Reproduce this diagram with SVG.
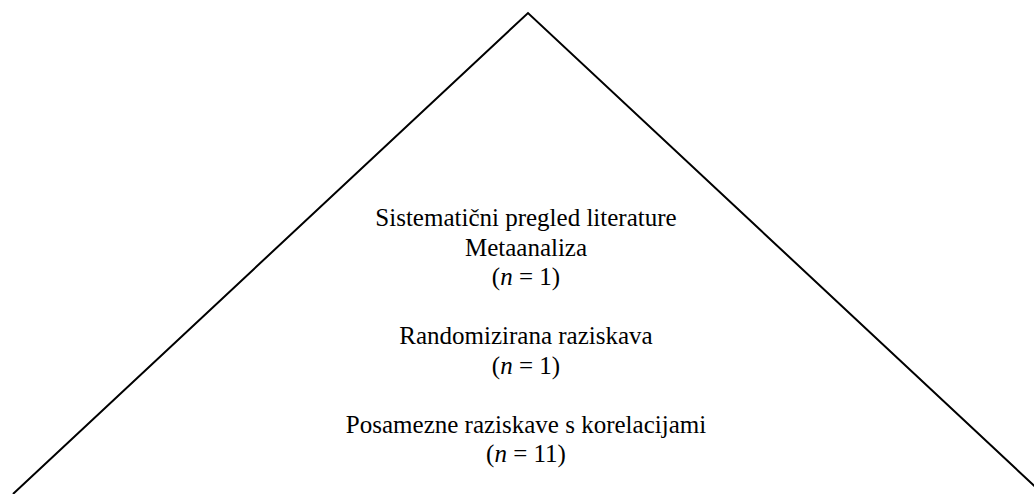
<svg xmlns="http://www.w3.org/2000/svg" width="1034" height="494" viewBox="0 0 1034 494">
<style>
.t{font-family:"Liberation Serif","Times New Roman",serif;font-size:25px;fill:#000;text-anchor:middle}
.i{font-style:italic}
.edge{fill:none;stroke:#000;stroke-width:2}
</style>
<rect width="1034" height="494" fill="#fff"/>
<g id="connectors">
<polyline class="edge" points="13,494 528,13 1043,494"/>
</g>
<g id="level1">
<text class="t" x="526" y="226">Sistematični pregled literature</text>
<text class="t" x="526" y="255.5">Metaanaliza</text>
<text class="t" x="526" y="285">(<tspan class="i">n</tspan> = 1)</text>
</g>
<g id="level2">
<text class="t" x="526" y="344">Randomizirana raziskava</text>
<text class="t" x="526" y="373.5">(<tspan class="i">n</tspan> = 1)</text>
</g>
<g id="level3">
<text class="t" x="526" y="432.5">Posamezne raziskave s korelacijami</text>
<text class="t" x="526" y="462">(<tspan class="i">n</tspan> = 11)</text>
</g>
</svg>
